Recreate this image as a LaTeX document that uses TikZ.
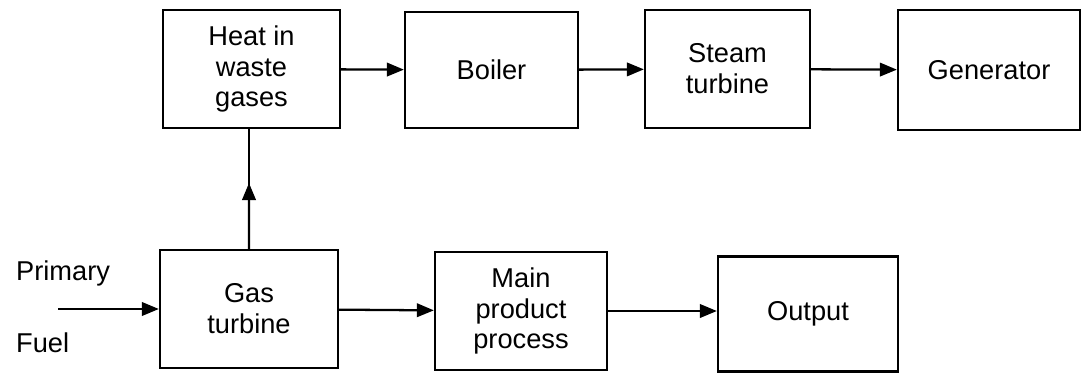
\documentclass[tikz,border=0pt]{standalone}
\usepackage{fontspec}
\setmainfont{Liberation Sans}
\usetikzlibrary{arrows.meta,positioning,calc}

\begin{document}
\begin{tikzpicture}[
    every node/.style={font=\fontsize{15.5}{17.6}\selectfont},
    box/.style={draw, line width=1.3pt, align=center, inner sep=4pt},
    arr/.style={-{Triangle[length=0.34cm, width=0.27cm]}, line width=1.3pt},
    plain/.style={line width=1.3pt}
]
\useasboundingbox (0,0) rectangle (21.72,7.56);

% ── Top row ───────────────────────────────────────────────────────────────
\node[box, minimum width=3.54cm, minimum height=2.36cm] (heat) at (5.03, 6.18)
      {Heat in\\waste\\gases};
\node[box, minimum width=3.46cm, minimum height=2.32cm] (boiler) at (9.83, 6.16)
      {Boiler};
\node[box, minimum width=3.30cm, minimum height=2.36cm] (steam) at (14.55, 6.18)
      {Steam\\turbine};
\node[box, minimum width=3.64cm, minimum height=2.40cm] (gen) at (19.78, 6.16)
      {Generator};

% ── Bottom row ────────────────────────────────────────────────────────────
\node[box, minimum width=3.56cm, minimum height=2.36cm] (gas) at (4.98, 1.38)
      {Gas\\turbine};
\node[box, minimum width=3.44cm, minimum height=2.36cm] (main) at (10.42, 1.34)
      {Main\\product\\process};
\node[box, minimum width=3.60cm, minimum height=2.30cm] (out) at (16.16, 1.28)
      {Output};

% ── Fuel input ────────────────────────────────────────────────────────────
\coordinate (fuelin) at (1.16, 1.38);
\node[anchor=west] (prim) at (0.2, 2.1) {Primary};
\node[anchor=west] (fuel) at (0.2, 0.7) {Fuel};
\draw[arr] (fuelin) -- (gas.west);

% ── Connections ───────────────────────────────────────────────────────────
\coordinate (up) at ($(gas.north)!0.55!(gas.north |- heat.south)$);
\draw[plain] (gas.north) -- (gas.north |- heat.south);
\draw[arr] (gas.north) -- (up);
\draw[arr] (heat) -- (boiler);
\draw[arr] (boiler) -- (steam);
\draw[arr] (steam) -- (gen);
\draw[arr] (gas) -- (main);
\draw[arr] (main) -- (main -| out.west);

\end{tikzpicture}
\end{document}
